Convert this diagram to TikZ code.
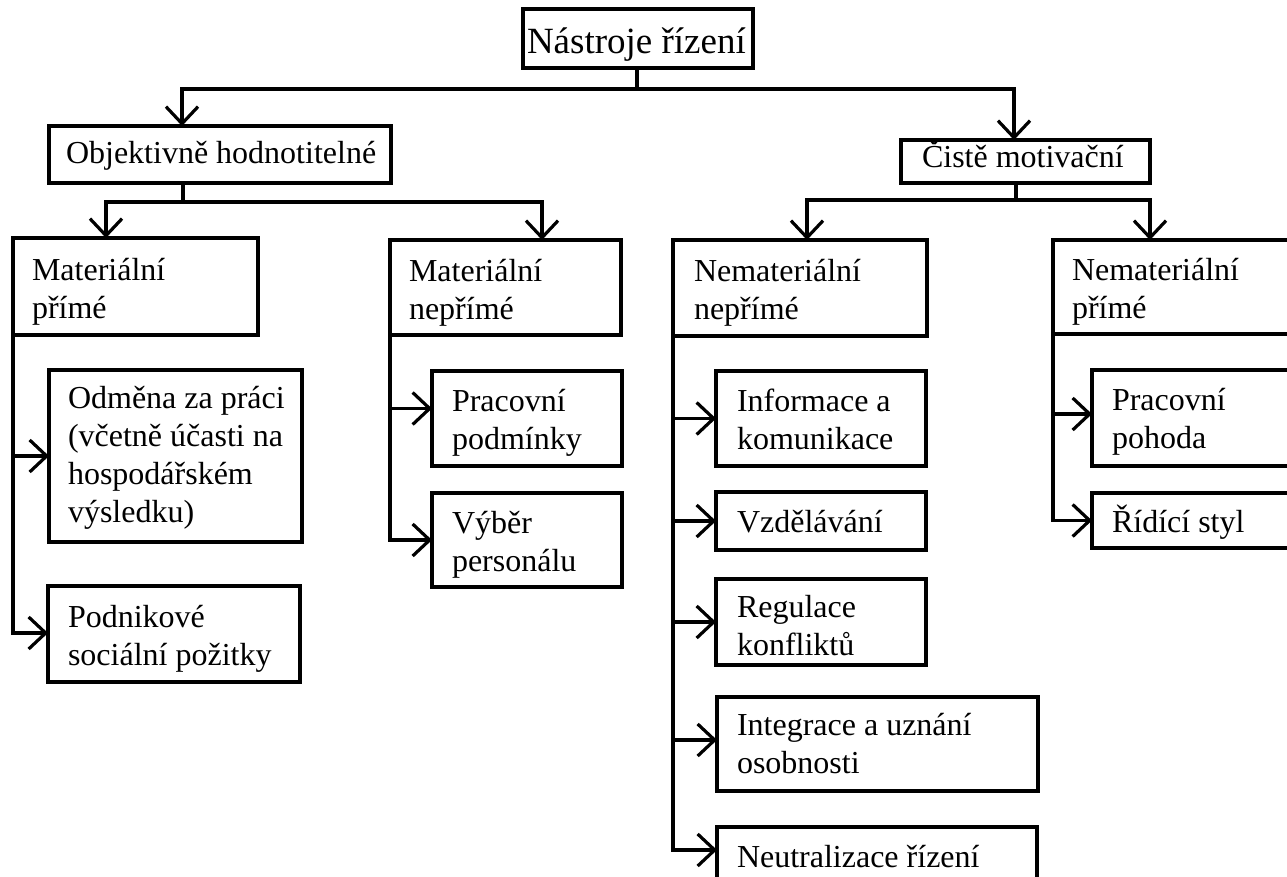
\documentclass[tikz,border=0pt]{standalone}
\usepackage{fontspec}
\setmainfont{Liberation Serif}
\usetikzlibrary{arrows.meta,fit,calc}
\tikzset{
  bx/.style={draw, rectangle, line width=3.5pt, inner sep=0pt, outer sep=0pt},
  txt/.style={anchor=base west, align=left, inner sep=0pt, outer sep=0pt, font=\fontsize{32}{38}\selectfont},
  ttl/.style={anchor=base west, inner sep=0pt, outer sep=0pt, font=\fontsize{37}{44}\selectfont},
  ln/.style={line width=3.2pt},
  arr/.style={line width=3.2pt, -{Straight Barb[length=17pt,width=32pt]}}
}
\begin{document}
\begin{tikzpicture}[x=1pt,y=-1pt]
\useasboundingbox (0,0) rectangle (1287,876);
\clip (0,0) rectangle (1287,876);
% boxes
\node[bx, fit={(523,9) (753,68)}] (root) {};
\node[bx, fit={(49,126) (391,183)}] (obj) {};
\node[bx, fit={(901,140) (1150,183)}] (cis) {};
\node[bx, fit={(13,238) (258,335)}] (mp) {};
\node[bx, fit={(390,240) (621,335)}] (mn) {};
\node[bx, fit={(673,240) (927,336)}] (nn) {};
\node[bx, fit={(1053,240) (1300,334)}] (np) {};
\node[bx, fit={(49,370) (302,542)}] (odm) {};
\node[bx, fit={(48,586) (300,682)}] (pod) {};
\node[bx, fit={(432,371) (622,466)}] (prac) {};
\node[bx, fit={(432,493) (622,587)}] (vyb) {};
\node[bx, fit={(716,371) (926,466)}] (inf) {};
\node[bx, fit={(716,492) (926,550)}] (vzd) {};
\node[bx, fit={(716,579) (926,665)}] (reg) {};
\node[bx, fit={(717,697) (1038,791)}] (int) {};
\node[bx, fit={(717,827) (1037,900)}] (neu) {};
\node[bx, fit={(1092,370) (1300,466)}] (pp) {};
\node[bx, fit={(1092,493) (1300,548)}] (rs) {};
% texts (anchor = baseline of the last line)
\node[ttl] (root-t) at (527,53) {Nástroje řízení};
\node[txt] (obj-t) at (66,163) {Objektivně hodnotitelné};
\node[txt] (cis-t) at (922,167) {Čistě motivační};
\node[txt] (mp-t) at (32,318) {Materiální\\přímé};
\node[txt] (mn-t) at (409,319) {Materiální\\nepřímé};
\node[txt] (nn-t) at (694,319) {Nemateriální\\nepřímé};
\node[txt] (np-t) at (1072,318) {Nemateriální\\přímé};
\node[txt] (odm-t) at (68,522) {Odměna za práci\\(včetně účasti na\\hospodářském\\výsledku)};
\node[txt] (pod-t) at (68,665) {Podnikové\\sociální požitky};
\node[txt] (prac-t) at (452,449) {Pracovní\\podmínky};
\node[txt] (vyb-t) at (452,571) {Výběr\\personálu};
\node[txt] (inf-t) at (737,449) {Informace a\\komunikace};
\node[txt] (vzd-t) at (737,532) {Vzdělávání};
\node[txt] (reg-t) at (737,655) {Regulace\\konfliktů};
\node[txt] (int-t) at (737,773) {Integrace a uznání\\osobnosti};
\node[txt] (neu-t) at (737,867) {Neutralizace řízení};
\node[txt] (pp-t) at (1112,448) {Pracovní\\pohoda};
\node[txt] (rs-t) at (1112,532) {Řídící styl};
% level 1
\draw[ln] ([xshift=-1pt]root.south) -- ++(0,21) coordinate (t1);
\draw[arr] (t1) -| ([xshift=-38pt]obj.north);
\draw[arr] (t1) -| ([xshift=-11.5pt]cis.north);
% level 2 left
\draw[ln] ([xshift=-37pt]obj.south) -- ++(0,19) coordinate (t2);
\draw[arr] (t2) -| ([xshift=-29.5pt]mp.north);
\draw[arr] (t2) -| ([xshift=36.5pt]mn.north);
% level 2 right
\draw[ln] ([xshift=-9.5pt]cis.south) -- ++(0,17) coordinate (t3);
\draw[arr] (t3) -| ([xshift=7pt]nn.north);
\draw[arr] (t3) -| ([xshift=-26.5pt]np.north);
% leaves
\draw[arr] (mp.south west) |- (odm.west);
\draw[arr] (mp.south west) |- ([yshift=1pt]pod.west);
\draw[arr] (mn.south west) |- ([yshift=10pt]prac.west);
\draw[arr] (mn.south west) |- (vyb.west);
\draw[arr] (nn.south west) |- (inf.west);
\draw[arr] (nn.south west) |- (vzd.west);
\draw[arr] (nn.south west) |- (reg.west);
\draw[arr] (nn.south west) |- ([yshift=4pt]int.west);
\draw[arr] (nn.south west) |- ($(neu.north west)+(0,23)$);
\draw[arr] (np.south west) |- ([yshift=4pt]pp.west);
\draw[arr] (np.south west) |- (rs.west);
\end{tikzpicture}
\end{document}
